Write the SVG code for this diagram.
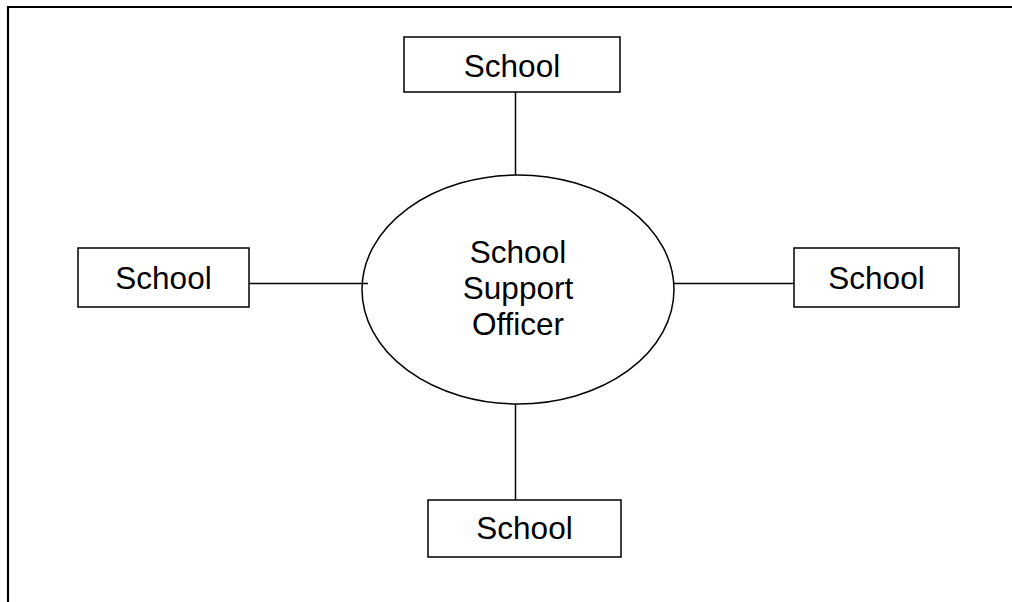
<svg xmlns="http://www.w3.org/2000/svg" width="1012" height="602" viewBox="0 0 1012 602">
<style>
.box{fill:#fff;stroke:#000;stroke-width:1.5}
.conn{stroke:#000;stroke-width:1.5;fill:none}
.lbl{font-family:"Liberation Sans",Arial,sans-serif;font-size:31.5px;fill:#000;text-anchor:middle}
</style>
<rect width="1012" height="602" fill="#fff"/>
<g id="frame"><path d="M8 602 V7 H1012" fill="none" stroke="#000" stroke-width="2.2"/></g>
<g id="connectors">
<line class="conn" x1="515.5" y1="92" x2="515.5" y2="175"/>
<line class="conn" x1="249" y1="283.5" x2="368" y2="283.5"/>
<line class="conn" x1="674" y1="283.5" x2="794" y2="283.5"/>
<line class="conn" x1="515.5" y1="404" x2="515.5" y2="500"/>
</g>
<g id="center">
<ellipse cx="518" cy="289.5" rx="156" ry="114.5" fill="none" stroke="#000" stroke-width="1.5"/>
<text class="lbl" x="518" y="263">School</text>
<text class="lbl" x="518" y="299">Support</text>
<text class="lbl" x="518" y="335">Officer</text>
</g>
<g id="school-top"><rect class="box" x="404" y="37" width="216" height="55"/><text class="lbl" x="512" y="77">School</text></g>
<g id="school-left"><rect class="box" x="78" y="248" width="171" height="59"/><text class="lbl" x="163.5" y="289">School</text></g>
<g id="school-right"><rect class="box" x="794" y="248" width="165" height="59"/><text class="lbl" x="876.5" y="289">School</text></g>
<g id="school-bottom"><rect class="box" x="428" y="500" width="193" height="57"/><text class="lbl" x="524.5" y="539">School</text></g>
</svg>
